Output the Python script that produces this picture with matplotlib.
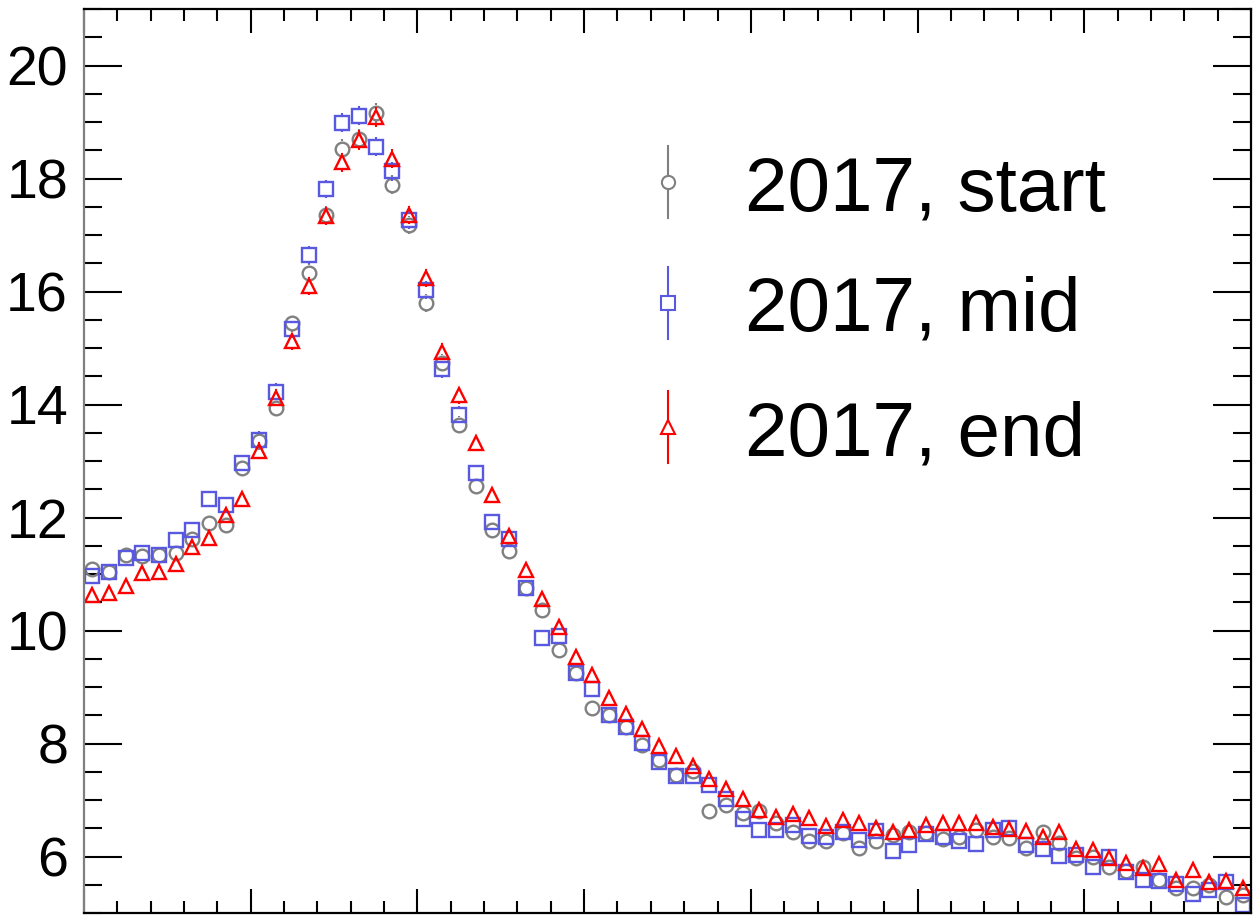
import numpy as np
import matplotlib.pyplot as plt
from matplotlib.ticker import MultipleLocator

plt.rcParams['font.family'] = ['Liberation Sans', 'DejaVu Sans']

# 70 bins, values
bins = np.arange(70) + 0.5

y_start = [11.08, 11.03, 11.34, 11.32, 11.34, 11.38, 11.62, 11.90, 11.87, 12.88,
           13.35, 13.94, 15.44, 16.33, 17.36, 18.53, 18.70, 19.16, 17.89, 17.18,
           15.80, 14.74, 13.64, 12.55, 11.78, 11.40, 10.75, 10.37, 9.65, 9.25,
           8.63, 8.51, 8.30, 7.98, 7.70, 7.45, 7.51, 6.81, 6.92, 6.77,
           6.80, 6.60, 6.43, 6.28, 6.28, 6.41, 6.15, 6.27, 6.38, 6.44,
           6.41, 6.31, 6.35, 6.47, 6.35, 6.33, 6.15, 6.44, 6.24, 5.97,
           6.00, 5.82, 5.74, 5.82, 5.59, 5.44, 5.44, 5.50, 5.29, 5.32]

y_mid = [10.96, 11.04, 11.28, 11.37, 11.33, 11.61, 11.78, 12.33, 12.23, 12.96,
         13.38, 14.23, 15.33, 16.64, 17.82, 18.99, 19.11, 18.56, 18.13, 17.26,
         16.02, 14.62, 13.82, 12.79, 11.92, 11.62, 10.75, 9.87, 9.90, 9.25,
         8.96, 8.51, 8.30, 8.01, 7.67, 7.43, 7.42, 7.27, 7.02, 6.67,
         6.47, 6.47, 6.55, 6.37, 6.34, 6.44, 6.30, 6.46, 6.09, 6.20,
         6.40, 6.35, 6.27, 6.22, 6.47, 6.50, 6.21, 6.13, 6.01, 6.03,
         5.82, 5.99, 5.72, 5.58, 5.56, 5.51, 5.34, 5.41, 5.55, 5.15]

y_end = [10.62, 10.66, 10.78, 11.01, 11.04, 11.18, 11.48, 11.64, 12.05, 12.32,
         13.18, 14.12, 15.12, 16.10, 17.34, 18.29, 18.68, 19.09, 18.35, 17.36,
         16.24, 14.93, 14.16, 13.32, 12.40, 11.67, 11.07, 10.56, 10.06, 9.53,
         9.22, 8.80, 8.53, 8.26, 7.95, 7.77, 7.61, 7.37, 7.19, 7.02,
         6.82, 6.70, 6.76, 6.68, 6.54, 6.65, 6.60, 6.50, 6.43, 6.47,
         6.55, 6.59, 6.59, 6.59, 6.53, 6.49, 6.46, 6.35, 6.44, 6.13,
         6.11, 5.97, 5.89, 5.79, 5.87, 5.59, 5.76, 5.54, 5.56, 5.45]

# rough error sizes per bin (same for all three)
errs = [0.13, 0.13, 0.13, 0.13, 0.13, 0.13, 0.13, 0.14, 0.14, 0.14,
        0.15, 0.15, 0.15, 0.16, 0.16, 0.17, 0.17, 0.17, 0.17, 0.16,
        0.16, 0.15, 0.15, 0.14, 0.14, 0.13, 0.12, 0.12, 0.11, 0.11,
        0.10, 0.10, 0.10, 0.10, 0.09, 0.09, 0.09, 0.09, 0.09, 0.09,
        0.08, 0.08, 0.08, 0.08, 0.08, 0.08, 0.08, 0.08, 0.08, 0.08,
        0.08, 0.08, 0.08, 0.08, 0.08, 0.08, 0.08, 0.08, 0.08, 0.08,
        0.08, 0.08, 0.08, 0.08, 0.08, 0.08, 0.08, 0.08, 0.08, 0.08]

labels = ["2017, start", "2017, mid", "2017, end"]
colors = ["#808080", "#5858e0", "#ff0000"]
markers = ["o", "s", "^"]

fig = plt.figure(figsize=(12.55, 9.15), dpi=100)
ax = fig.add_axes([84 / 1255, 2 / 915, 1167 / 1255, 904 / 915])
ax.set_xlim(0, 70)
ax.set_ylim(5.0, 21.0)

ms = 9.8
mew = 1.7
# marker half size in data units, so error bars stop at the open marker
px_per_unit = ax.transData.transform((0, 1))[1] - ax.transData.transform((0, 0))[1]
gap = (ms + mew) / 2 * fig.dpi / 72 / px_per_unit

for ys, c, m in zip([y_start, y_mid, y_end], colors, markers):
    ys = np.array(ys)
    e = np.array(errs)
    big = e > gap
    ax.vlines(bins[big], ys[big] + gap, ys[big] + e[big], color=c, lw=1.5)
    ax.vlines(bins[big], ys[big] - e[big], ys[big] - gap, color=c, lw=1.5)
    ax.plot(bins, ys, linestyle="none", marker=m, ms=ms, mfc="none",
            mec=c, mew=mew)

# legend drawn by hand, ROOT style
leg_x = 0.5004
leg_y = [0.8086, 0.6752, 0.5376]
half = 36 / 904
lgap = 7 / 904
for lab, c, m, yy in zip(labels, colors, markers, leg_y):
    ax.plot([leg_x, leg_x], [yy + lgap, yy + half], color=c, lw=1.5,
            transform=ax.transAxes, clip_on=False)
    ax.plot([leg_x, leg_x], [yy - half, yy - lgap], color=c, lw=1.5,
            transform=ax.transAxes, clip_on=False)
    ax.plot([leg_x], [yy], marker=m, ms=9.5, mfc="none", mec=c, mew=1.5,
            transform=ax.transAxes, clip_on=False)
    ax.text(0.5664, yy - 28 / 904, lab, fontsize=55, va="baseline", ha="left",
            transform=ax.transAxes)

ax.xaxis.set_major_locator(MultipleLocator(10))
ax.xaxis.set_minor_locator(MultipleLocator(2))
ax.yaxis.set_major_locator(MultipleLocator(2))
ax.yaxis.set_minor_locator(MultipleLocator(0.5))

ax.tick_params(axis="both", which="both", direction="in", top=True, right=True,
               width=1.5, color="black")
ax.tick_params(axis="y", which="major", length=27.5, pad=11.5, labelsize=40)
ax.tick_params(axis="y", which="minor", length=13)
ax.tick_params(axis="x", which="major", length=17, labelbottom=False)
ax.tick_params(axis="x", which="minor", length=8.5)

for s in ax.spines.values():
    s.set_linewidth(1.6)
ax.spines["left"].set_color("#808080")

fig.savefig("out.png", dpi=100)
